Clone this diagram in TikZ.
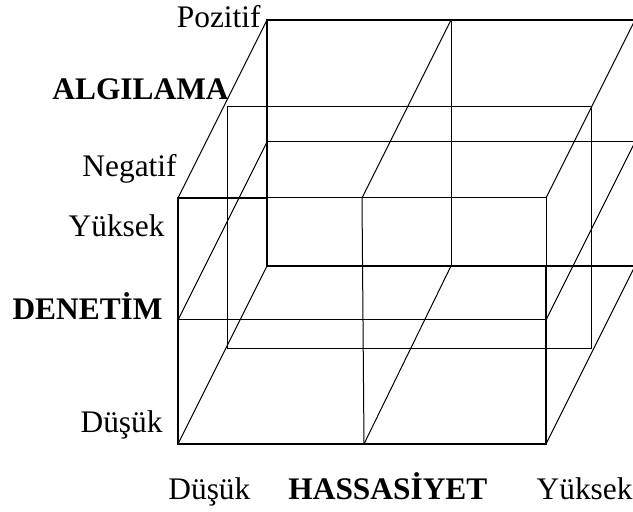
\documentclass[tikz,border=0pt]{standalone}
\usepackage{fontspec}
\setmainfont{Liberation Serif}

\begin{document}
\begin{tikzpicture}[
  x=0.5pt, y=-0.5pt,
  gridline/.style={line width=0.5pt},
  edgeline/.style={line width=1.3pt},
  every node/.style={font=\fontsize{15.7}{18}\selectfont, inner sep=0pt},
  axisname/.style={font=\fontsize{15.7}{18}\selectfont\bfseries}
]
\useasboundingbox (0,0) rectangle (633,512);
\clip (0,0) rectangle (633,512);

% On yuz
\coordinate (f00) at (178,198);
\coordinate (f10) at (362,198);
\coordinate (f20) at (546,198);
\coordinate (f01) at (178,320);
\coordinate (f11) at (363,320);
\coordinate (f21) at (546,320);
\coordinate (f02) at (178,444);
\coordinate (f12) at (364,444);
\coordinate (f22) at (546,444);

% Arka yuz
\coordinate (b00) at (267,20);
\coordinate (b10) at (451,20);
\coordinate (b20) at (635,20);
\coordinate (b01) at (267,142);
\coordinate (b11) at (451,142);
\coordinate (b21) at (635,142);
\coordinate (b02) at (267,266);
\coordinate (b12) at (451,266);
\coordinate (b22) at (635,266);

% Orta katman
\coordinate (m0) at (227,107);
\coordinate (m1) at (591,107);
\coordinate (m2) at (591,349);
\coordinate (m3) at (227,349);

% Ince cizgiler
\draw[gridline] (f00) -- (f20) -- (f22);
\draw[gridline] (f01) -- (f21);
\draw[gridline] (f10) -- (f12);
\draw[gridline] (b01) -- (b21);
\draw[gridline] (b10) -- (b12);
\draw[gridline] (m0) -- (m1) -- (m2) -- (m3) -- cycle;
\foreach \p in {00,01,02,10,12,20,21,22}
  \draw[gridline] (f\p) -- (b\p);

% Kalin cizgiler
\draw[edgeline] (b22) -- (b02) -- (b00) -- (b20);
\draw[edgeline] (f00 -| b00) -- (f00) -- (f02) -- (f22) -- (f22 |- b02);

% Etiketler - ALGILAMA
\node[anchor=base east] (pozitif) at (261,28) {Pozitif};
\node[anchor=base east, axisname] (algilama) at (229,100) {ALGILAMA};
\node[anchor=base east] (negatif) at (177,177) {Negatif};

% Etiketler - DENETİM
\node[anchor=base east] (yuksekden) at (165,237) {Yüksek};
\node[anchor=base east, axisname] (denetim) at (163,320) {DENETİM};
\node[anchor=base east] (dusukden) at (163,433) {Düşük};

% Etiketler - HASSASİYET
\node[anchor=base west] (dusukhas) at (168,500) {Düşük};
\node[anchor=base west, axisname] (hassasiyet) at (288,500) {HASSASİYET};
\node[anchor=base east] (yuksekhas) at (633,500) {Yüksek};

\end{tikzpicture}
\end{document}
